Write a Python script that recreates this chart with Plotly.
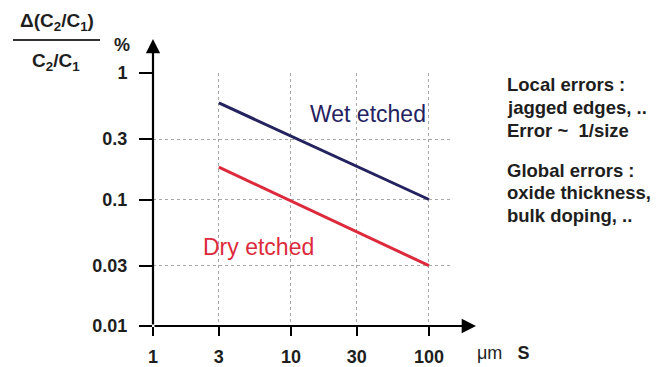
import plotly.graph_objects as go

# ---- data ----
size_um = [3, 100]
wet_etched = [0.58, 0.1]
dry_etched = [0.18, 0.03]
x_tick_vals = [1, 3, 10, 30, 100]
x_tick_text = ["1", "3", "10", "30", "100"]
y_tick_vals = [0.01, 0.03, 0.1, 0.3, 1]
y_tick_text = ["0.01", "0.03", "0.1", "0.3", "1"]
local_notes = ["Local errors :", "jagged edges, ..", "Error ~  1/size"]
global_notes = ["Global errors :", "oxide thickness,", "bulk doping, .."]

W, H = 657, 367
L, R, T, B = 153, 205, 73, 41
PW, PH = W - L - R, H - T - B

def px(x):
    return (x - L) / PW

def py(y):
    return (H - B - y) / PH

FONT = "Arial, Liberation Sans, sans-serif"
WET_C = "#25235f"
DRY_C = "#dc2a3c"
TXT = "#1e1e1e"

fig = go.Figure()
fig.add_trace(go.Scatter(x=size_um, y=wet_etched, mode="lines",
                         line=dict(color=WET_C, width=3), showlegend=False))
fig.add_trace(go.Scatter(x=size_um, y=dry_etched, mode="lines",
                         line=dict(color=DRY_C, width=3), showlegend=False))

grid = dict(showgrid=True, gridcolor="#a8a8a8", gridwidth=1, griddash="dot")
fig.update_xaxes(type="log", range=[0, 2.167], tickvals=x_tick_vals, ticktext=x_tick_text,
                 ticks="outside", ticklen=9, tickwidth=2, tickcolor="black",
                 ticklabelstandoff=5, automargin=False,
                 tickfont=dict(family=FONT, size=18, color=TXT, weight="bold"),
                 showline=False, zeroline=False, **grid)
fig.update_yaxes(type="log", range=[-2, 0], tickvals=y_tick_vals, ticktext=y_tick_text,
                 ticks="outside", ticklen=13, tickwidth=2, tickcolor="black",
                 ticklabelstandoff=8, automargin=False,
                 tickfont=dict(family=FONT, size=18, color=TXT, weight="bold"),
                 showline=False, zeroline=False, **grid)

def label(x, y, text, size, color=TXT, xanchor="center", **kw):
    return dict(xref="paper", yref="paper", x=px(x), y=py(y), text=text,
                xanchor=xanchor, yanchor="middle", showarrow=False,
                font=dict(family=FONT, size=size, color=color), **kw)

ann = []
# axis arrows
ann.append(dict(xref="paper", yref="paper", x=0, y=py(39), ax=0, ay=287,
                text="", showarrow=True, standoff=0,
                arrowhead=2, arrowsize=1.3, arrowwidth=2.2, arrowcolor="black"))
ann.append(dict(xref="paper", yref="paper", x=px(476), y=0, ax=-323, ay=0,
                text="", showarrow=True, standoff=0,
                arrowhead=2, arrowsize=1.3, arrowwidth=2.2, arrowcolor="black"))
# series labels
ann.append(label(368, 114, "Wet etched", 23, WET_C))
ann.append(label(258, 247, "Dry etched", 23, DRY_C))
# axis unit labels
ann.append(label(475, 353, "\u03bcm   <b>S</b>", 18, xanchor="left"))
ann.append(label(122, 45, "<b>%</b>", 18))
# fraction title
ann.append(label(57, 22, "<b>\u0394(C<sub>2</sub>/C<sub>1</sub>)</b>", 19))
ann.append(label(56, 62, "<b>C<sub>2</sub>/C<sub>1</sub></b>", 19))
# notes, one line each
for i, n in enumerate(local_notes):
    ann.append(label(505, 85 + 22.5 * i, f"<b>{n}</b>", 18.5, xanchor="left"))
for i, n in enumerate(global_notes):
    ann.append(label(505, 170 + 22.5 * i, f"<b>{n}</b>", 18.5, xanchor="left"))

shapes = [dict(type="line", xref="paper", yref="paper", x0=px(13), x1=px(100),
               y0=py(40), y1=py(40), line=dict(color="#333", width=2))]

fig.update_layout(width=W, height=H, margin=dict(l=L, r=R, t=T, b=B),
                  paper_bgcolor="white", plot_bgcolor="white",
                  annotations=ann, shapes=shapes, showlegend=False)
fig.write_html("out.html")
